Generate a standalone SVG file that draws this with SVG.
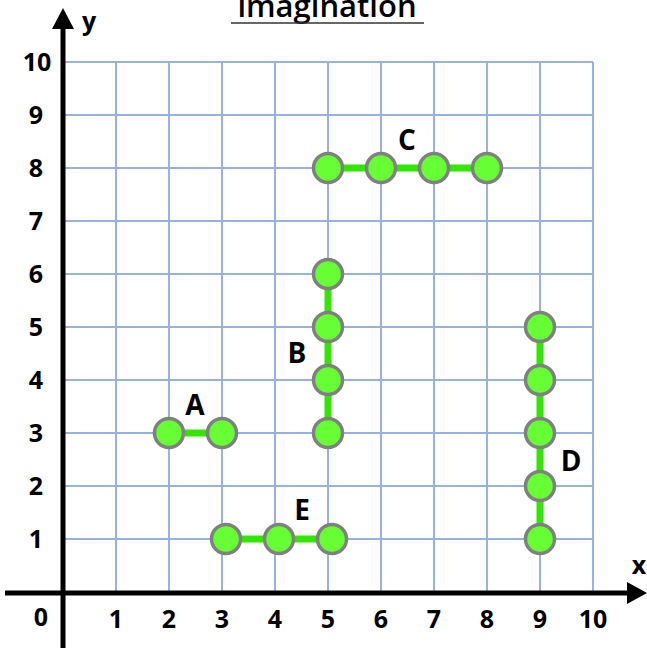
<svg xmlns="http://www.w3.org/2000/svg" width="647" height="648" viewBox="0 0 647 648">
<style>
.grid{stroke:#97b2e2;stroke-width:2;fill:none}
.axis{stroke:#000;stroke-width:5;fill:none}
.num{font-family:"Open Sans","Noto Sans",sans-serif;font-weight:700;font-size:25px;fill:#000;text-anchor:middle}
.lbl{font-family:"Open Sans","Noto Sans",sans-serif;font-weight:700;font-size:28px;fill:#000;text-anchor:middle}
.pt{fill:#66ff33;stroke:#808080;stroke-width:3.5}
.link{stroke:#33e600;stroke-width:7;fill:none}
</style>
<rect width="647" height="648" fill="#fff"/>
<g id="title">
<text x="327" y="17" font-family="Open Sans, Noto Sans, sans-serif" font-weight="600" font-size="31" text-anchor="middle" fill="#000">imagination</text>
<line x1="231" y1="23" x2="424" y2="23" stroke="#333" stroke-width="1.5"/>
</g>
<g id="grid" class="grid">
<path d="M116 62V593M169 62V593M222 62V593M275 62V593M328 62V593M381 62V593M434 62V593M487 62V593M540 62V593M593 62V593"/>
<path d="M63 62H593M63 115H593M63 168H593M63 221H593M63 274H593M63 327H593M63 380H593M63 433H593M63 486H593M63 539H593"/>
</g>
<g id="axes">
<line x1="5" y1="593" x2="630" y2="593" class="axis"/>
<polygon points="647,593 627,582 627,604" fill="#000"/>
<line x1="63" y1="648" x2="63" y2="26" class="axis"/>
<polygon points="63,8 52,29 74,29" fill="#000"/>
<text x="89" y="30" class="num" font-weight="500">y</text>
<text x="639" y="574" class="num" font-weight="500">x</text>
</g>
<g id="ticks">
<text x="37" y="71" class="num">10</text>
<text x="36" y="124" class="num">9</text>
<text x="36" y="177" class="num">8</text>
<text x="36" y="230" class="num">7</text>
<text x="36" y="283" class="num">6</text>
<text x="36" y="336" class="num">5</text>
<text x="36" y="389" class="num">4</text>
<text x="36" y="442" class="num">3</text>
<text x="36" y="495" class="num">2</text>
<text x="36" y="548" class="num">1</text>
<text x="41" y="626" class="num">0</text>
<text x="116" y="628" class="num">1</text>
<text x="169" y="628" class="num">2</text>
<text x="222" y="628" class="num">3</text>
<text x="275" y="628" class="num">4</text>
<text x="328" y="628" class="num">5</text>
<text x="381" y="628" class="num">6</text>
<text x="434" y="628" class="num">7</text>
<text x="487" y="628" class="num">8</text>
<text x="540" y="628" class="num">9</text>
<text x="593" y="628" class="num">10</text>
</g>
<g id="connectors">
<path class="link" d="M169 433H222"/>
<path class="link" d="M328 274V433"/>
<path class="link" d="M328 168H487"/>
<path class="link" d="M540 327V539"/>
<path class="link" d="M226 539H332"/>
</g>
<g id="A">
<circle class="pt" cx="169" cy="433" r="14.5"/>
<circle class="pt" cx="222" cy="433" r="14.5"/>
<text x="195" y="415" class="lbl">A</text>
</g>
<g id="B">
<circle class="pt" cx="328" cy="274" r="14.5"/>
<circle class="pt" cx="328" cy="327" r="14.5"/>
<circle class="pt" cx="328" cy="380" r="14.5"/>
<circle class="pt" cx="328" cy="433" r="14.5"/>
<text x="297" y="363" class="lbl">B</text>
</g>
<g id="C">
<circle class="pt" cx="328" cy="168" r="14.5"/>
<circle class="pt" cx="381" cy="168" r="14.5"/>
<circle class="pt" cx="434" cy="168" r="14.5"/>
<circle class="pt" cx="487" cy="168" r="14.5"/>
<text x="407" y="150" class="lbl">C</text>
</g>
<g id="D">
<circle class="pt" cx="540" cy="327" r="14.5"/>
<circle class="pt" cx="540" cy="380" r="14.5"/>
<circle class="pt" cx="540" cy="433" r="14.5"/>
<circle class="pt" cx="540" cy="486" r="14.5"/>
<circle class="pt" cx="540" cy="539" r="14.5"/>
<text x="571" y="471" class="lbl">D</text>
</g>
<g id="E">
<circle class="pt" cx="226" cy="539" r="14.5"/>
<circle class="pt" cx="279" cy="539" r="14.5"/>
<circle class="pt" cx="332" cy="539" r="14.5"/>
<text x="302" y="520" class="lbl">E</text>
</g>
</svg>
